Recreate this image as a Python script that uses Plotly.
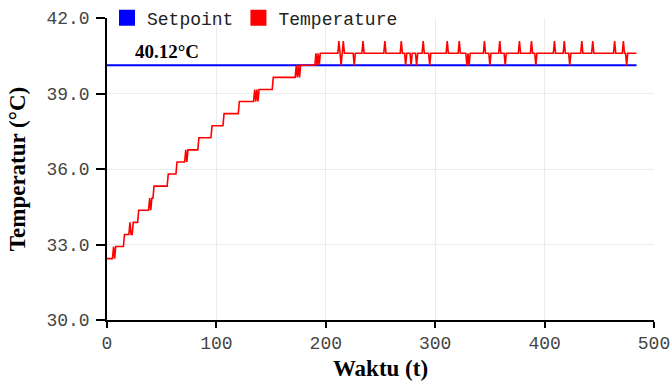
import plotly.graph_objects as go

# Setpoint
setpoint_t = [0, 484]
setpoint_v = [40.12, 40.12]

# Temperature (time, value)
time_t = [0, 5, 6, 7, 8, 15, 16, 20, 21, 22, 23, 24, 28, 29, 38, 39, 40, 41, 42, 43,
          55, 56, 63, 64, 71, 72, 73, 74, 83, 84, 95, 96, 106, 107, 120, 121, 134, 135,
          136, 137, 138, 139, 151, 152, 172, 173, 174, 175, 176, 177, 190, 191, 192, 193,
          194, 195,
          211, 212, 213, 214, 215, 216, 217,
          225, 226, 227,
          233, 234, 235,
          253, 254, 255,
          268, 269, 270,
          272, 273, 274,
          277, 278, 279,
          282, 283, 284,
          288, 289, 290,
          294, 295, 296,
          310, 311, 312,
          321, 322, 323,
          328, 329, 330, 331, 332,
          344, 345, 346,
          349, 350, 351,
          358, 359, 360,
          363, 364, 365,
          376, 377, 378,
          387, 388, 389,
          391, 392, 393,
          408, 409, 410,
          417, 418, 419,
          422, 423, 424,
          433, 434, 435,
          443, 444, 445,
          463, 464, 465,
          471, 472, 473,
          474, 475, 476,
          484]
temp_v = [32.44, 32.44, 32.92, 32.44, 32.92, 32.92, 33.40, 33.40, 33.88, 33.40, 33.40, 33.88,
          33.88, 34.36, 34.36, 34.84, 34.36, 34.84, 34.84, 35.32,
          35.32, 35.80, 35.80, 36.28, 36.28, 36.76, 36.28, 36.76, 36.76, 37.24, 37.24, 37.72,
          37.72, 38.20, 38.20, 38.68, 38.68, 39.16,
          38.68, 39.16, 38.68, 39.16, 39.16, 39.64, 39.64, 40.12, 39.64, 40.12, 39.64, 40.12,
          40.12, 40.60, 40.12, 40.60,
          40.12, 40.60,
          40.60, 41.08, 40.60, 40.12, 40.60, 41.08, 40.60,
          40.60, 40.12, 40.60,
          40.60, 41.08, 40.60,
          40.60, 41.08, 40.60,
          40.60, 41.08, 40.60,
          40.60, 40.12, 40.60,
          40.60, 40.12, 40.60,
          40.60, 40.12, 40.60,
          40.60, 41.08, 40.60,
          40.60, 40.12, 40.60,
          40.60, 41.08, 40.60,
          40.60, 41.08, 40.60,
          40.60, 40.12, 40.60, 40.12, 40.60,
          40.60, 41.08, 40.60,
          40.60, 40.12, 40.60,
          40.60, 41.08, 40.60,
          40.60, 40.12, 40.60,
          40.60, 41.08, 40.60,
          40.60, 41.08, 40.60,
          40.60, 40.12, 40.60,
          40.60, 41.08, 40.60,
          40.60, 41.08, 40.60,
          40.60, 40.12, 40.60,
          40.60, 41.08, 40.60,
          40.60, 41.08, 40.60,
          40.60, 41.08, 40.60,
          40.60, 41.08, 40.60,
          40.60, 40.12, 40.60,
          40.60]

x_ticks = [0, 100, 200, 300, 400, 500]
y_ticks = [30, 33, 36, 39, 42]
y_ticklabels = ["30.0", "33.0", "36.0", "39.0", "42.0"]
series_names = ["Setpoint", "Temperature"]
series_colors = ["#0000ff", "#ff0000"]

MONO = "Liberation Mono"
SERIF = "Liberation Serif"

fig = go.Figure()
fig.add_trace(go.Scatter(x=setpoint_t, y=setpoint_v, mode="lines",
                         line=dict(color=series_colors[0], width=2),
                         showlegend=False, hoverinfo="skip"))
fig.add_trace(go.Scatter(x=time_t, y=temp_v, mode="lines",
                         line=dict(color=series_colors[1], width=1.6),
                         showlegend=False, hoverinfo="skip"))
for name, col in zip(series_names, series_colors):
    fig.add_trace(go.Scatter(x=[None], y=[None], mode="markers", name=name,
                             marker=dict(symbol="square", size=16, color=col)))

fig.add_annotation(x=55, y=40.68, text="<b>40.12°C</b>", showarrow=False,
                   font=dict(family=SERIF, size=19, color="#000"))

fig.update_layout(
    width=670, height=383,
    margin=dict(l=107, r=16, t=18, b=63, autoexpand=False),
    paper_bgcolor="white", plot_bgcolor="white",
    legend=dict(orientation="h", x=0.0, y=1.0, xanchor="left", yanchor="middle",
                font=dict(family=MONO, size=18, color="#222"),
                bgcolor="rgba(0,0,0,0)", itemwidth=30, tracegroupgap=0),
    xaxis=dict(range=[0, 500], tickvals=x_ticks, ticks="outside", ticklen=6,
               tickcolor="#000", tickwidth=1.5, showline=True, linecolor="#000",
               linewidth=1.5, showgrid=True, gridcolor="#ececec", zeroline=False,
               ticklabeloverflow="allow",
               tickfont=dict(family=MONO, size=18, color="#444"),
               title=dict(text="<b>Waktu (t)</b>", standoff=7,
                          font=dict(family=SERIF, size=23, color="#000"))),
    yaxis=dict(range=[30, 42], tickvals=y_ticks, ticktext=y_ticklabels,
               ticks="outside", ticklen=9, tickcolor="#000", tickwidth=1.5,
               ticklabelstandoff=3, ticklabeloverflow="allow",
               showline=True, linecolor="#000", linewidth=1.5, showgrid=True,
               gridcolor="#ececec", zeroline=False,
               tickfont=dict(family=MONO, size=18, color="#444"),
               title=dict(text="<b>Temperatur (°C)</b>", standoff=14,
                          font=dict(family=SERIF, size=23, color="#000"))),
    xaxis2=dict(range=[0, 500], tickvals=x_ticks, overlaying="x", anchor="y",
                side="bottom", ticks="inside", ticklen=4, tickcolor="#000",
                tickwidth=1.5, showticklabels=False, showgrid=False,
                showline=False, zeroline=False),
    yaxis2=dict(range=[30, 42], tickvals=y_ticks, overlaying="y", anchor="x",
                side="left", ticks="inside", ticklen=3, tickcolor="#000",
                tickwidth=1.5, showticklabels=False, showgrid=False,
                showline=False, zeroline=False),
)

fig.write_html("out.html")
